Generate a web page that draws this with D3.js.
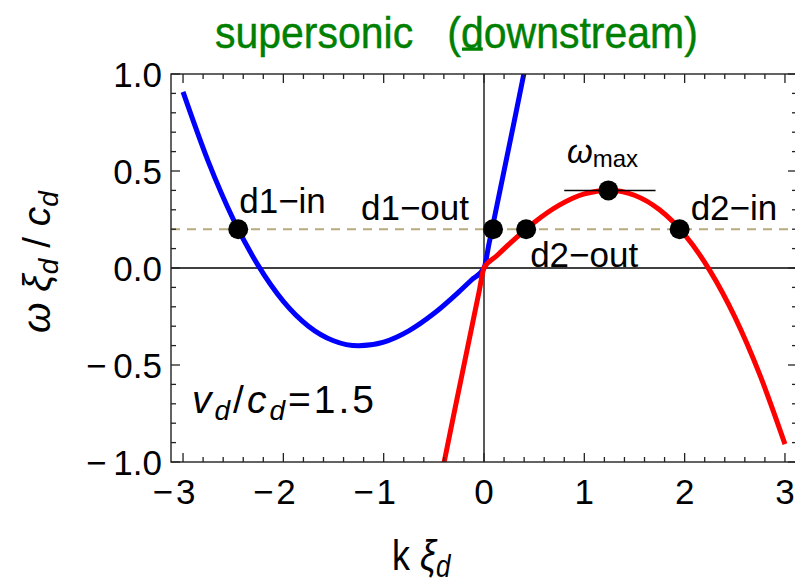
<!DOCTYPE html>
<html>
<head>
<meta charset="utf-8">
<script src="https://cdn.jsdelivr.net/npm/d3@7"></script>
<style>
  html, body { margin: 0; padding: 0; background: #fff; }
  svg { display: block; font-family: "Liberation Sans", Arial, sans-serif; }
</style>
</head>
<body>
<svg id="chart" width="795" height="583"></svg>
<script>
// Bogoliubov branches of the downstream dispersion, v_d/c_d = 1.5
const blueK = [-3.00, -2.75, -2.50, -2.25, -2.00, -1.75, -1.50, -1.25, -1.00, -0.75, -0.50, -0.25, -0.125, 0.00, 0.05, 0.10, 0.20, 0.30, 0.40];
const blueW = [0.908, 0.551, 0.252, 0.012, -0.172, -0.300, -0.375, -0.401, -0.382, -0.324, -0.235, -0.123, -0.062, 0.000, 0.125, 0.250, 0.501, 0.753, 1.008];

const redK = [-0.40, -0.30, -0.20, -0.10, -0.05, 0.00, 0.125, 0.25, 0.50, 0.75, 1.00, 1.25, 1.50, 1.75, 2.00, 2.25, 2.50, 2.75, 3.00];
const redW = [-1.008, -0.753, -0.501, -0.250, -0.125, 0.000, 0.062, 0.123, 0.235, 0.324, 0.382, 0.401, 0.375, 0.300, 0.172, -0.012, -0.252, -0.551, -0.908];

// marked modes at the frequency line and the maximum
const modeNames = ["d1\u2212in", "d1\u2212out", "d2\u2212out", "max", "d2\u2212in"];
const modeK = [-2.45, 0.09, 0.42, 1.24, 1.95];
const modeW = [0.20, 0.20, 0.20, 0.40, 0.20];

const omegaLine = 0.2;
const omegaMax = 0.4;
const omegaMaxSpan = [0.80, 1.71];

const xTicks = [-3, -2, -1, 0, 1, 2, 3];
const yTicks = [-1.0, -0.5, 0.0, 0.5, 1.0];
const yTickLabels = ["\u2212\u20091.0", "\u2212\u20090.5", "0.0", "0.5", "1.0"];
const xTickLabels = ["\u2212\u200a3", "\u2212\u200a2", "\u2212\u200a1", "0", "1", "2", "3"];

const svg = d3.select("#chart");
const x = d3.scaleLinear().domain([-3.12, 3.12]).range([171, 797]);
const y = d3.scaleLinear().domain([-1, 1]).range([462, 74]);

const [x0, x1] = x.range();
const [y0, y1] = y.range();

svg.append("clipPath").attr("id", "plot").append("rect")
  .attr("x", x0).attr("y", y1).attr("width", x1 - x0).attr("height", y0 - y1);

// zero axes
svg.append("line").attr("x1", x0).attr("x2", x1).attr("y1", y(0)).attr("y2", y(0))
  .attr("stroke", "#000").attr("stroke-width", 1.3);
svg.append("line").attr("x1", x(0)).attr("x2", x(0)).attr("y1", y1).attr("y2", y0)
  .attr("stroke", "#000").attr("stroke-width", 1.3);

// frequency line
svg.append("line").attr("x1", x0).attr("x2", x1).attr("y1", y(omegaLine)).attr("y2", y(omegaLine))
  .attr("stroke", "#b8aa7c").attr("stroke-width", 2).attr("stroke-dasharray", "9,7");

const line = d3.line().x(d => x(d[0])).y(d => y(d[1])).curve(d3.curveMonotoneX);
const g = svg.append("g").attr("clip-path", "url(#plot)");
g.append("path").datum(blueK.map((k, i) => [k, blueW[i]])).attr("d", line)
  .attr("fill", "none").attr("stroke", "#0000ff").attr("stroke-width", 5);
g.append("path").datum(redK.map((k, i) => [k, redW[i]])).attr("d", line)
  .attr("fill", "none").attr("stroke", "#ff0000").attr("stroke-width", 5);

// tangent at the maximum
svg.append("line").attr("x1", x(omegaMaxSpan[0])).attr("x2", x(omegaMaxSpan[1]))
  .attr("y1", y(omegaMax)).attr("y2", y(omegaMax))
  .attr("stroke", "#000").attr("stroke-width", 1.5);

// dots
svg.selectAll("circle.mode").data(modeK).join("circle").attr("class", "mode")
  .attr("cx", d => x(d)).attr("cy", (d, i) => y(modeW[i])).attr("r", 10).attr("fill", "#000");

// frame with inward ticks
const frameColor = "#222";
svg.append("rect").attr("x", x0).attr("y", y1).attr("width", x1 - x0).attr("height", y0 - y1)
  .attr("fill", "none").attr("stroke", frameColor).attr("stroke-width", 1.4);

const xMinor = d3.range(-15, 16).map(i => i / 5).filter(v => Math.abs(v - Math.round(v)) > 1e-6);
const yMinor = d3.range(-10, 11).map(i => i / 10).filter(v => Math.abs(v * 2 - Math.round(v * 2)) > 1e-6);
const tk = svg.append("g").attr("stroke", frameColor).attr("stroke-width", 1.3);
function xt(vals, len) {
  vals.forEach(v => {
    tk.append("line").attr("x1", x(v)).attr("x2", x(v)).attr("y1", y0).attr("y2", y0 - len);
    tk.append("line").attr("x1", x(v)).attr("x2", x(v)).attr("y1", y1).attr("y2", y1 + len);
  });
}
function yt(vals, len) {
  vals.forEach(v => {
    tk.append("line").attr("y1", y(v)).attr("y2", y(v)).attr("x1", x0).attr("x2", x0 + len);
    tk.append("line").attr("y1", y(v)).attr("y2", y(v)).attr("x1", x1).attr("x2", x1 - len);
  });
}
xt(xTicks, 9); xt(xMinor, 5);
yt(yTicks, 9); yt(yMinor, 5);

// tick labels
svg.selectAll("text.xt").data(xTicks).join("text").attr("class", "xt")
  .attr("x", d => x(d) - (d < 0 ? 9 : 0)).attr("y", 504)
  .attr("text-anchor", "middle").attr("font-size", 35).attr("fill", "#000")
  .text((d, i) => xTickLabels[i]);
svg.selectAll("text.yt").data(yTicks).join("text").attr("class", "yt")
  .attr("x", 162).attr("y", d => y(d) + 12.5)
  .attr("text-anchor", "end").attr("font-size", 35).attr("fill", "#000")
  .text((d, i) => yTickLabels[i]);

// axis titles
const xl = svg.append("text").attr("transform", "translate(392,570) scale(1,1.18)")
  .attr("font-size", 36).attr("fill", "#000");
xl.append("tspan").text("k ");
xl.append("tspan").attr("font-style", "italic").text("\u03be");
xl.append("tspan").attr("font-style", "italic").attr("font-size", 26).attr("dy", 6).text("d");

const yl = svg.append("text").attr("transform", "translate(50,262) rotate(-90)")
  .attr("text-anchor", "middle").attr("font-size", 39).attr("fill", "#000");
yl.append("tspan").attr("font-style", "italic").text("\u03c9 \u03be");
yl.append("tspan").attr("font-style", "italic").attr("font-size", 28).attr("dy", 8).text("d");
yl.append("tspan").attr("dy", -8).text(" / ");
yl.append("tspan").attr("font-style", "italic").text("c");
yl.append("tspan").attr("font-style", "italic").attr("font-size", 28).attr("dy", 8).text("d");

// title with the underlined "d"
const titleStr = "supersonic   (downstream)";
const tg = svg.append("g").attr("transform", "translate(215,48) scale(1,1.1)");
const title = tg.append("text").attr("x", 0).attr("y", 0).attr("font-size", 41)
  .attr("fill", "#008000").attr("stroke", "#008000").attr("stroke-width", 0.4)
  .style("white-space", "pre").text(titleStr);
const ext = title.node().getExtentOfChar(titleStr.indexOf("d"));
tg.append("rect").attr("x", ext.x + 1).attr("y", -0.5).attr("width", ext.width - 2).attr("height", 3)
  .attr("fill", "#008000");

// mode labels
const labelFont = 35;
function modeLabel(i, dx, dy, anchor) {
  svg.append("text").attr("x", x(modeK[i]) + dx).attr("y", y(modeW[i]) + dy)
    .attr("text-anchor", anchor).attr("font-size", labelFont).attr("fill", "#000")
    .text(modeNames[i]);
}
modeLabel(0, 1, -16, "start");
modeLabel(1, -24, -9, "end");
modeLabel(2, 4, 38, "start");
modeLabel(4, 11, -9, "start");

const wm = svg.append("text").attr("x", 567).attr("y", 163).attr("fill", "#000");
wm.append("tspan").attr("font-style", "italic").attr("font-size", 33).text("\u03c9");
wm.append("tspan").attr("font-size", 24).attr("dy", 4).text(modeNames[3]);

// flow speed
const vt = svg.append("text").attr("x", 192).attr("y", 413).attr("font-size", 39)
  .attr("letter-spacing", 3).attr("fill", "#000");
vt.append("tspan").attr("font-style", "italic").text("v");
vt.append("tspan").attr("font-style", "italic").attr("font-size", 28).attr("dy", 7).text("d");
vt.append("tspan").attr("dy", -7).text("/");
vt.append("tspan").attr("font-style", "italic").text("c");
vt.append("tspan").attr("font-style", "italic").attr("font-size", 28).attr("dy", 7).text("d");
vt.append("tspan").attr("dy", -7).text("=1.5");
</script>
</body>
</html>
